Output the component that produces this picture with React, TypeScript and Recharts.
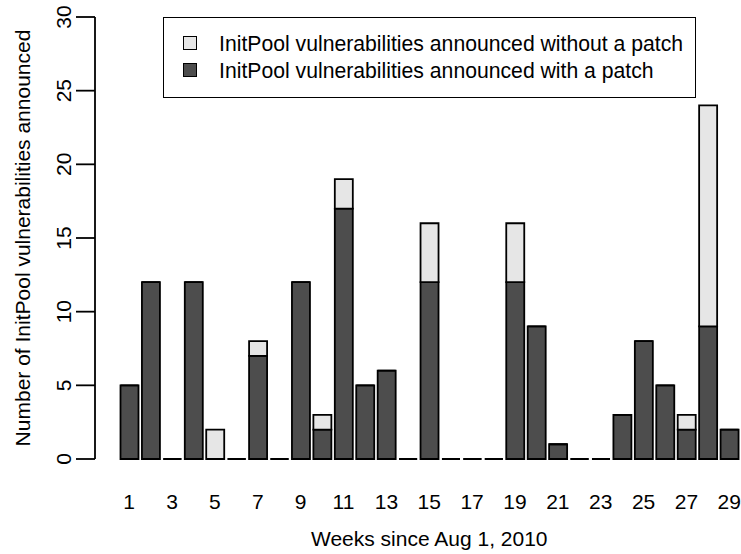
import { Bar, BarChart, Label, Legend, XAxis, YAxis } from "recharts";

// Weekly counts, starting the week of Aug 1, 2010
const weeks = [
  "1", "2", "3", "4", "5", "6", "7", "8", "9", "10",
  "11", "12", "13", "14", "15", "16", "17", "18", "19", "20",
  "21", "22", "23", "24", "25", "26", "27", "28", "29",
];
const withPatch = [5, 12, 0, 12, 0, 0, 7, 0, 12, 2, 17, 5, 6, 0, 12, 0, 0, 0, 12, 9, 1, 0, 0, 3, 8, 5, 2, 9, 2];
const withoutPatch = [0, 0, 0, 0, 2, 0, 1, 0, 0, 1, 2, 0, 0, 0, 4, 0, 0, 0, 4, 0, 0, 0, 0, 0, 0, 0, 1, 15, 0];
const yTicks = [0, 5, 10, 15, 20, 25, 30];

const DARK = "#4d4d4d";
const LIGHT = "#e6e6e6";
const FONT = "'Liberation Sans', Arial, Helvetica, sans-serif";
const LINE = 1.8;
const PAD_LEFT = 23.5;

const legendItems = [
  { label: "InitPool vulnerabilities announced without a patch", color: LIGHT },
  { label: "InitPool vulnerabilities announced with a patch", color: DARK },
];

const data = weeks.map((week, i) => ({
  week,
  withPatch: withPatch[i],
  withoutPatch: withoutPatch[i],
}));

// path instead of rect so that empty weeks still show as a flat line at zero
function OutlinedBar(props: any) {
  const { x, y, width, height, fill } = props;
  return (
    <path
      d={`M${x},${y}h${width}v${height}h${-width}Z`}
      fill={fill}
      stroke="#000"
      strokeWidth={LINE}
    />
  );
}

function WeekTick(props: any) {
  const { x, y, payload } = props;
  return (
    <text x={x} y={y + 50} textAnchor="middle" fontSize={21} fill="#000">
      {payload.value}
    </text>
  );
}

function CountTick(props: any) {
  const { x, y, payload } = props;
  return (
    <text x={x} y={y} transform={`rotate(-90 ${x} ${y})`} textAnchor="middle" fontSize={21} fill="#000">
      {payload.value}
    </text>
  );
}

function BoxLegend() {
  return (
    <div
      style={{
        boxSizing: "border-box",
        width: 533,
        height: 81,
        border: `${LINE}px solid #000`,
        background: "#fff",
        paddingTop: 11.5,
      }}
    >
      {legendItems.map((item) => (
        <div key={item.label} style={{ display: "flex", alignItems: "center", height: 27 }}>
          <div
            style={{
              boxSizing: "border-box",
              width: 14,
              height: 14,
              marginLeft: 19,
              marginRight: 22,
              background: item.color,
              border: "1.5px solid #000",
            }}
          />
          <span style={{ fontSize: 21.2, lineHeight: "27px", whiteSpace: "nowrap", color: "#000" }}>
            {item.label}
          </span>
        </div>
      ))}
    </div>
  );
}

export default function App() {
  return (
    <div style={{ position: "absolute", left: 0, top: 0, width: 741, height: 554, background: "#fff", fontFamily: FONT }}>
      <BarChart
        width={741}
        height={554}
        data={data}
        margin={{ top: 17, right: 1, bottom: 0, left: 0 }}
        barSize={18}
      >
        <XAxis
          dataKey="week"
          height={95}
          interval={1}
          axisLine={false}
          tickLine={false}
          tickSize={0}
          tickMargin={0}
          padding={{ left: PAD_LEFT, right: 0 }}
          tick={WeekTick}
        >
          <Label
            content={(p: any) => (
              <text
                x={p.viewBox.x + PAD_LEFT + (p.viewBox.width - PAD_LEFT) / 2}
                y={546}
                textAnchor="middle"
                fontSize={21}
                fill="#000"
              >
                Weeks since Aug 1, 2010
              </text>
            )}
          />
        </XAxis>
        <YAxis
          width={95}
          domain={[0, 30]}
          ticks={yTicks}
          interval={0}
          tickSize={19}
          tickMargin={5}
          axisLine={{ stroke: "#000", strokeWidth: LINE }}
          tickLine={{ stroke: "#000", strokeWidth: LINE }}
          tick={CountTick}
        >
          <Label
            content={(p: any) => {
              const cx = 30;
              const cy = p.viewBox.y + p.viewBox.height / 2;
              return (
                <text
                  x={cx}
                  y={cy}
                  transform={`rotate(-90 ${cx} ${cy})`}
                  textAnchor="middle"
                  fontSize={21}
                  fill="#000"
                >
                  Number of InitPool vulnerabilities announced
                </text>
              );
            }}
          />
        </YAxis>
        <Legend
          layout="horizontal"
          verticalAlign="middle"
          align="center"
          content={BoxLegend}
          wrapperStyle={{ left: 163, top: 17, width: 533, height: 81 }}
        />
        <Bar dataKey="withPatch" stackId="v" fill={DARK} shape={OutlinedBar} isAnimationActive={false} />
        <Bar dataKey="withoutPatch" stackId="v" fill={LIGHT} shape={OutlinedBar} isAnimationActive={false} />
      </BarChart>
    </div>
  );
}
